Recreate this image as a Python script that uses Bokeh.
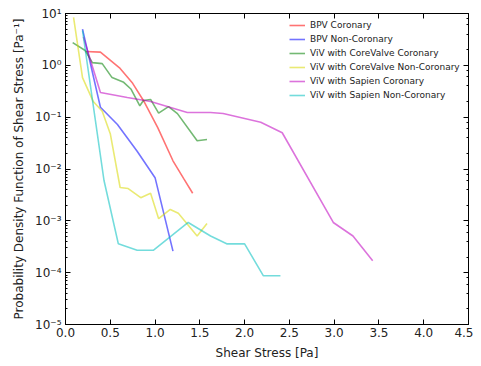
from bokeh.plotting import figure
from bokeh.models import LinearAxis, LogAxis, Legend, LegendItem, FixedTicker, Range1d
from bokeh.embed import file_html
from bokeh.resources import INLINE

# ---- data ----
bpv_cor_x = [0.22, 0.39, 0.61, 0.75, 0.87, 1.03, 1.20, 1.32, 1.42]
bpv_cor_y = [1.85, 1.80, 0.87, 0.45, 0.21, 0.063, 0.0144, 0.0065, 0.0034]

bpv_non_x = [0.19, 0.39, 0.58, 0.80, 1.00, 1.20]
bpv_non_y = [5.0, 0.155, 0.072, 0.022, 0.0068, 0.00026]

cv_cor_x = [0.08, 0.22, 0.30, 0.41, 0.52, 0.65, 0.73, 0.83, 0.87, 0.95, 1.04, 1.15, 1.25, 1.47, 1.58]
cv_cor_y = [2.75, 1.93, 1.13, 1.08, 0.58, 0.47, 0.35, 0.166, 0.21, 0.22, 0.12, 0.16, 0.117, 0.035, 0.037]

cv_non_x = [0.09, 0.19, 0.31, 0.41, 0.50, 0.61, 0.70, 0.84, 0.95, 1.04, 1.17, 1.26, 1.47, 1.58]
cv_non_y = [8.4, 0.58, 0.20, 0.13, 0.048, 0.0044, 0.0042, 0.0028, 0.0034, 0.0011, 0.00166, 0.0014, 0.00051, 0.00089]

sap_cor_x = [0.20, 0.39, 0.69, 0.95, 1.36, 1.62, 1.76, 2.18, 2.42, 2.99, 3.21, 3.43]
sap_cor_y = [3.5, 0.30, 0.24, 0.20, 0.123, 0.123, 0.118, 0.08, 0.05, 0.00093, 0.00051, 0.00017]

sap_non_x = [0.19, 0.43, 0.59, 0.80, 0.98, 1.37, 1.62, 1.80, 2.00, 2.21, 2.40]
sap_non_y = [4.7, 0.006, 0.00036, 0.00027, 0.00027, 0.00093, 0.00051, 0.00036, 0.00036, 0.000087, 0.000087]

series = [
    ("BPV Coronary", bpv_cor_x, bpv_cor_y, "#ff0000"),
    ("BPV Non-Coronary", bpv_non_x, bpv_non_y, "#0000ff"),
    ("ViV with CoreValve Coronary", cv_cor_x, cv_cor_y, "#008000"),
    ("ViV with CoreValve Non-Coronary", cv_non_x, cv_non_y, "#d8d800"),
    ("ViV with Sapien Coronary", sap_cor_x, sap_cor_y, "#bf00bf"),
    ("ViV with Sapien Non-Coronary", sap_non_x, sap_non_y, "#00bfbf"),
]

x_ticks = [0.0, 0.5, 1.0, 1.5, 2.0, 2.5, 3.0, 3.5, 4.0, 4.5]
y_ticks = [1e-5, 1e-4, 1e-3, 1e-2, 1e-1, 1e0, 1e1]
y_tick_labels = ["10\u207b\u2075", "10\u207b\u2074", "10\u207b\u00b3", "10\u207b\u00b2",
                 "10\u207b\u00b9", "10\u2070", "10\u00b9"]

FONT = "DejaVu Sans"
TXT = "#222222"

p = figure(frame_width=403, frame_height=311, y_axis_type="log",
           x_range=Range1d(0, 4.5), y_range=Range1d(1e-5, 10),
           output_backend="svg", toolbar_location=None,
           min_border_left=65, min_border_top=13, min_border_right=5, min_border_bottom=30)
p.grid.visible = False
p.outline_line_color = "black"
p.outline_line_width = 1

items = []
for name, xs, ys, col in series:
    r = p.line(xs, ys, line_color=col, line_alpha=0.55, line_width=1.6)
    items.append(LegendItem(label=name, renderers=[r]))

# axes styling
for ax in [p.xaxis[0], p.yaxis[0]]:
    ax.major_label_text_font = FONT
    ax.major_label_text_font_size = "12px"
    ax.major_label_text_color = TXT
    ax.axis_label_text_font = FONT
    ax.axis_label_text_font_size = "12px"
    ax.axis_label_text_font_style = "normal"
    ax.axis_label_text_color = TXT
    ax.major_tick_in = 5
    ax.major_tick_out = 0
    ax.minor_tick_in = 2
    ax.minor_tick_out = 0
    ax.axis_line_color = "black"
    ax.major_tick_line_color = "black"
    ax.minor_tick_line_color = "black"

p.xaxis[0].ticker = FixedTicker(ticks=x_ticks)
p.xaxis[0].major_label_overrides = {t: f"{t:.1f}" for t in x_ticks}
p.xaxis[0].axis_label = "Shear Stress [Pa]"
p.xaxis[0].major_label_standoff = 3
p.xaxis[0].axis_label_standoff = 6

p.yaxis[0].ticker.num_minor_ticks = 10
p.yaxis[0].major_label_overrides = {t: l for t, l in zip(y_ticks, y_tick_labels)}
p.yaxis[0].axis_label = "Probability Density Function of Shear Stress [Pa\u207b\u00b9]"
p.yaxis[0].major_label_standoff = 4
p.yaxis[0].axis_label_standoff = 6

# mirrored ticks on top and right (no labels)
top = LinearAxis(ticker=FixedTicker(ticks=x_ticks), major_label_text_color=None,
                 major_tick_in=5, major_tick_out=0, minor_tick_line_color=None,
                 axis_line_color="black", major_label_standoff=0)
top.major_label_overrides = {t: "" for t in x_ticks}
p.add_layout(top, "above")
right = LogAxis(major_label_text_color=None, major_tick_in=5, major_tick_out=0,
                minor_tick_in=2, minor_tick_out=0, axis_line_color="black",
                major_label_standoff=0)
right.major_label_overrides = {t: "" for t in y_ticks}
p.add_layout(right, "right")

legend = Legend(items=items, location=(224, 311 - 5 - 6 * 14),
                border_line_alpha=0, background_fill_alpha=0,
                label_text_font=FONT, label_text_font_size="9px", label_text_color=TXT,
                glyph_width=16, glyph_height=14, label_height=14, spacing=0,
                padding=0, margin=0, label_standoff=5)
p.add_layout(legend, "center")

open("out.html", "w").write(file_html(p, INLINE))
